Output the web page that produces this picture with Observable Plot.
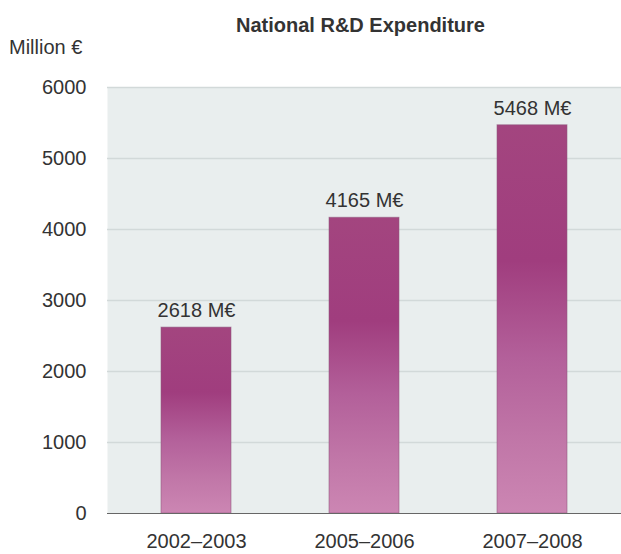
<!DOCTYPE html>
<html>
<head>
<meta charset="utf-8">
<script src="https://cdn.jsdelivr.net/npm/d3@7"></script>
<script src="https://cdn.jsdelivr.net/npm/@observablehq/plot@0.6"></script>
<style>
  html, body { margin: 0; padding: 0; background: #ffffff; }
  body { font-family: "Liberation Sans", Arial, sans-serif; color: #333; }
  #wrap { position: relative; width: 621px; height: 554px; }
  #head { position: relative; width: 621px; height: 60px; }
  #title { position: absolute; left: 0; width: 721px; top: 14px; text-align: center; font-size: 20px; font-weight: bold; color: #333; }
  #unit { position: absolute; left: 9px; top: 36px; font-size: 20px; color: #333; }
</style>
</head>
<body>
<div id="wrap">
  <div id="head">
    <div id="title">National R&amp;D Expenditure</div>
    <div id="unit">Million €</div>
  </div>
  <div id="chart"></div>
</div>
<script>
const periods = ["2002–2003", "2005–2006", "2007–2008"];
const expenditure = [2618, 4165, 5468];
const valueLabels = ["2618 M€", "4165 M€", "5468 M€"];
const yTicks = [0, 1000, 2000, 3000, 4000, 5000, 6000];

const data = periods.map((p, i) => ({period: p, value: expenditure[i], label: valueLabels[i]}));

const chart = Plot.plot({
  width: 621,
  height: 494,
  marginTop: 27,
  marginBottom: 41,
  marginLeft: 107,
  marginRight: 0,
  style: {fontSize: "20px", fontFamily: "'Liberation Sans', Arial, sans-serif", color: "#333", background: "transparent"},
  x: {domain: periods, paddingInner: 0.583, paddingOuter: 0.321, align: 0.5, label: null},
  y: {domain: [0, 6000], label: null},
  marks: [
    Plot.frame({fill: "#e9eeee", stroke: "none"}),
    Plot.ruleY(yTicks.filter(d => d > 0), {stroke: "#d2d9d9", strokeWidth: 1.5}),
    Plot.barY(data, {x: "period", y: "value", fill: "url(#barGrad)", stroke: "#8e5a7e", strokeOpacity: 0.55, strokeWidth: 1}),
    Plot.text(data, {x: "period", y: "value", text: "label", dy: -17, fill: "#333", fontSize: 20}),
    Plot.axisY({ticks: yTicks, tickSize: 0, tickPadding: 21, fontSize: 20, fill: "#333", tickFormat: d => String(d)}),
    Plot.axisX({tickSize: 0, tickPadding: 20, fontSize: 20, fill: "#333"}),
    Plot.ruleX([0], {frameAnchor: "left", stroke: "#555", strokeWidth: 1.2}),
    Plot.ruleY([0], {stroke: "#666", strokeWidth: 1.2})
  ]
});

// gradient definition for the bars
const ns = "http://www.w3.org/2000/svg";
const defs = document.createElementNS(ns, "defs");
const grad = document.createElementNS(ns, "linearGradient");
grad.setAttribute("id", "barGrad");
grad.setAttribute("x1", "0"); grad.setAttribute("y1", "0");
grad.setAttribute("x2", "0"); grad.setAttribute("y2", "1");
[["0%", "#a3457f"], ["35%", "#a03d7e"], ["60%", "#b3609a"], ["82%", "#c177a8"], ["100%", "#cc86b3"]].forEach(([o, c]) => {
  const s = document.createElementNS(ns, "stop");
  s.setAttribute("offset", o);
  s.setAttribute("stop-color", c);
  grad.appendChild(s);
});
defs.appendChild(grad);
chart.insertBefore(defs, chart.firstChild);

document.getElementById("chart").appendChild(chart);
</script>
</body>
</html>
